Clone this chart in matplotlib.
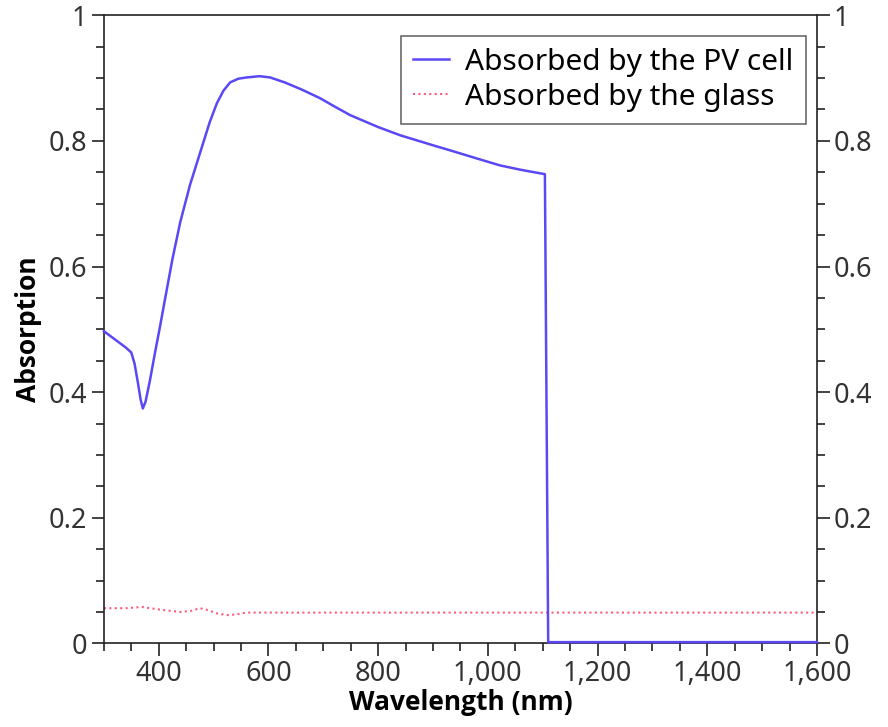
import numpy as np
import matplotlib.pyplot as plt
from matplotlib.ticker import MultipleLocator, FuncFormatter

# absorbed by the PV cell
pv_wl = [300, 320, 340, 350, 356, 362, 367, 371, 376, 384, 393, 402, 411, 425,
         439, 457, 475, 493, 506, 518, 530, 545, 560, 584, 603, 630, 660, 694,
         720, 749, 800, 840, 900, 931, 980, 1022, 1060, 1104, 1110, 1130, 1600]
pv_abs = [0.497, 0.484, 0.471, 0.463, 0.445, 0.415, 0.388, 0.374, 0.385, 0.419,
          0.462, 0.503, 0.546, 0.612, 0.670, 0.730, 0.780, 0.830, 0.860, 0.880,
          0.893, 0.899, 0.901, 0.903, 0.901, 0.893, 0.882, 0.868, 0.855, 0.841,
          0.822, 0.809, 0.793, 0.785, 0.772, 0.761, 0.754, 0.747, 0.002, 0.002, 0.002]

# absorbed by the glass
gl_wl = [300, 340, 370, 385, 400, 420, 439, 460, 475, 490, 505, 524, 540, 560, 600, 800, 1000, 1200, 1400, 1600]
gl_abs = [0.056, 0.056, 0.058, 0.056, 0.054, 0.052, 0.050, 0.052, 0.056, 0.053, 0.048, 0.045, 0.046, 0.049,
          0.049, 0.049, 0.049, 0.049, 0.049, 0.049]

plt.rcParams['font.family'] = ['Noto Sans', 'DejaVu Sans']

fig, ax = plt.subplots(figsize=(8.88, 7.27), dpi=100)
fig.subplots_adjust(left=0.117, right=0.92, top=0.979, bottom=0.115)

ax.plot(pv_wl, pv_abs, color='#5a48f5', lw=1.8, label='Absorbed by the PV cell',
        clip_on=False, zorder=4)
ax.plot(gl_wl, gl_abs, color='#ff5c7c', lw=1.5, linestyle=(0, (1, 1.6)), label='Absorbed by the glass')

ax.set_xlim(300, 1600)
ax.set_ylim(0, 1)
ax.xaxis.set_major_locator(MultipleLocator(200))
ax.xaxis.set_minor_locator(MultipleLocator(50))
ax.yaxis.set_major_locator(MultipleLocator(0.2))
ax.yaxis.set_minor_locator(MultipleLocator(0.05))
ax.xaxis.set_major_formatter(FuncFormatter(lambda v, p: f'{int(round(v)):,}'))
ax.yaxis.set_major_formatter(FuncFormatter(lambda v, p: f'{v:g}'))

ax.tick_params(axis='both', which='both', direction='out', colors='#222222',
               labelcolor='#333333', labelsize=19.5, width=1.2)
ax.tick_params(axis='both', which='major', length=9, pad=3)
ax.tick_params(axis='both', which='minor', length=6)
ax.tick_params(axis='y', which='both', left=True, right=True, labelleft=True, labelright=True)
ax.tick_params(axis='x', which='both', top=False)
for s in ax.spines.values():
    s.set_color('#222222')
    s.set_linewidth(1.2)

ax.set_xlabel('Wavelength (nm)', fontsize=19, fontweight='bold', labelpad=1,
              family=['Open Sans', 'DejaVu Sans'])
ax.set_ylabel('Absorption', fontsize=19, fontweight='bold', labelpad=5,
              family=['Open Sans', 'DejaVu Sans'])

leg = ax.legend(loc='upper right', bbox_to_anchor=(0.984, 0.967), fontsize=21.5, frameon=True,
                fancybox=False, handlelength=1.2, handletextpad=0.55, borderpad=0.4,
                labelspacing=0.2, borderaxespad=0)
leg.get_frame().set_edgecolor('#444444')
leg.get_frame().set_linewidth(1.2)

fig.savefig('out.png', dpi=100)
